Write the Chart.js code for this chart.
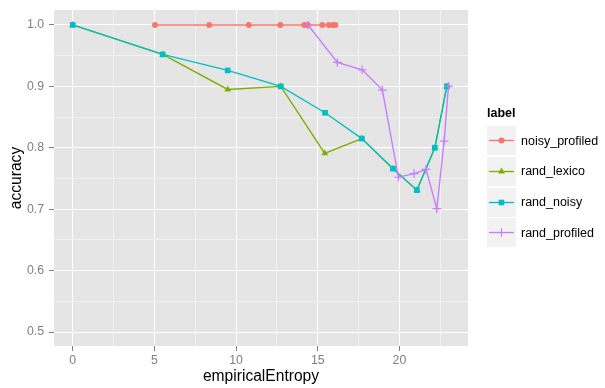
<!DOCTYPE html>
<html><head><meta charset="utf-8">
<script src="https://cdn.jsdelivr.net/npm/chart.js@4/dist/chart.umd.min.js"></script>
<style>
html,body{margin:0;padding:0;background:#fff;}
#wrap{position:relative;width:605px;height:388px;font-family:"Liberation Sans",Arial,sans-serif;overflow:hidden;}
canvas{position:absolute;left:0;top:0;}
#legend{position:absolute;left:0;top:0;width:605px;height:388px;pointer-events:none;}
.lt{position:absolute;left:487px;top:104px;font-weight:bold;font-size:12.5px;line-height:18px;color:#000;}
.key{position:absolute;left:487px;width:29px;height:29px;}
.txt{position:absolute;left:521px;font-size:12.5px;line-height:16px;color:#000;white-space:nowrap;}
</style></head><body>
<div id="wrap"><canvas id="c" width="605" height="388"></canvas><div id="legend"></div></div>
<script>
// ---- data ----
const seriesLabels = ['noisy_profiled', 'rand_lexico', 'rand_noisy', 'rand_profiled'];
const seriesColors = ['#F8766D', '#7CAE00', '#00BFC4', '#C77CFF'];
const seriesShapes = ['circle', 'triangle', 'rect', 'cross'];

const noisyProfiledX = [5.04, 8.36, 10.78, 12.71, 14.18, 14.39, 15.28, 15.68, 15.92, 16.08];
const noisyProfiledY = [1.0, 1.0, 1.0, 1.0, 1.0, 1.0, 1.0, 1.0, 1.0, 1.0];

const randLexicoX = [0, 5.51, 9.49, 12.74, 15.43, 17.70, 19.61, 21.07, 22.17, 22.90];
const randLexicoY = [1.0, 0.952, 0.895, 0.900, 0.791, 0.815, 0.766, 0.731, 0.800, 0.900];

const randNoisyX = [0, 5.51, 9.49, 12.74, 15.45, 17.70, 19.61, 21.07, 22.17, 22.90];
const randNoisyY = [1.0, 0.952, 0.926, 0.900, 0.857, 0.815, 0.766, 0.731, 0.800, 0.900];

const randProfiledX = [14.41, 16.20, 17.72, 18.96, 19.94, 20.90, 21.63, 22.29, 22.74, 23.00];
const randProfiledY = [1.0, 0.939, 0.927, 0.894, 0.752, 0.758, 0.765, 0.701, 0.811, 0.900];

const xMajorTicks = [0, 5, 10, 15, 20];
const xMinorTicks = [2.5, 7.5, 12.5, 17.5, 22.5];
const yMajorTicks = [0.5, 0.6, 0.7, 0.8, 0.9, 1.0];
const yMinorTicks = [0.55, 0.65, 0.75, 0.85, 0.95];

const xTitle = 'empiricalEntropy';
const yTitle = 'accuracy';
const legendTitle = 'label';

// ---- build ----
const seriesX = [noisyProfiledX, randLexicoX, randNoisyX, randProfiledX];
const seriesY = [noisyProfiledY, randLexicoY, randNoisyY, randProfiledY];
const pts = (xs, ys) => xs.map((x, i) => ({x: x, y: ys[i]}));
const pointRadius = {circle: 3, triangle: 3.9, rect: 4, cross: 4.3};

const datasets = [];
seriesLabels.forEach((lab, i) => {
  datasets.push({
    label: lab + ' line', data: pts(seriesX[i], seriesY[i]), showLine: true,
    borderColor: seriesColors[i], borderWidth: 1.35, pointRadius: 0, fill: false,
    tension: 0, order: 20 - i
  });
});
seriesLabels.forEach((lab, i) => {
  const shp = seriesShapes[i];
  datasets.push({
    label: lab, data: pts(seriesX[i], seriesY[i]), showLine: false,
    pointStyle: shp, pointRadius: pointRadius[shp],
    backgroundColor: seriesColors[i], borderColor: seriesColors[i],
    pointBorderWidth: shp === 'cross' ? 1.2 : 0, order: 10 - i
  });
});

const isMajor = (v, majors) => majors.some(m => Math.abs(m - v) < 1e-9);
const FONT = '"Liberation Sans", Arial, sans-serif';

const panelBg = {
  id: 'panelBg',
  beforeDraw(chart) {
    const a = chart.chartArea, ctx = chart.ctx;
    ctx.save(); ctx.fillStyle = '#E5E5E5';
    ctx.fillRect(a.left, a.top, a.right - a.left, a.bottom - a.top);
    ctx.restore();
  }
};

new Chart(document.getElementById('c'), {
  type: 'scatter',
  data: {datasets: datasets},
  plugins: [panelBg],
  options: {
    responsive: false, animation: false, devicePixelRatio: 1,
    layout: {padding: {left: 0, right: 137, top: 10, bottom: 0}},
    plugins: {legend: {display: false}, tooltip: {enabled: false}},
    scales: {
      x: {
        type: 'linear', min: -1.145, max: 24.2,
        afterBuildTicks: s => { s.ticks = xMajorTicks.concat(xMinorTicks).sort((a, b) => a - b).map(v => ({value: v})); },
        afterFit: s => { s.height = 42; s.paddingLeft = 0; s.paddingRight = 0; },
        border: {display: false},
        grid: {
          color: c => (c.tick && isMajor(c.tick.value, xMajorTicks)) ? '#FFFFFF' : '#F2F2F2',
          tickColor: c => (c.tick && isMajor(c.tick.value, xMajorTicks)) ? '#7F7F7F' : 'rgba(0,0,0,0)',
          lineWidth: 1, tickLength: 5, drawTicks: true
        },
        ticks: {
          autoSkip: false, maxRotation: 0, padding: 2, color: '#7F7F7F',
          font: {family: FONT, size: 12.3},
          callback: v => isMajor(v, xMajorTicks) ? String(Math.round(v)) : ''
        },
        title: {display: true, text: xTitle, color: '#000', font: {family: FONT, size: 15.6}, padding: {top: 0, bottom: 2}}
      },
      y: {
        type: 'linear', min: 0.4772, max: 1.0244,
        afterBuildTicks: s => { s.ticks = yMajorTicks.concat(yMinorTicks).sort((a, b) => a - b).map(v => ({value: v})); },
        afterFit: s => { s.width = 54; s.paddingTop = 0; s.paddingBottom = 0; },
        border: {display: false},
        grid: {
          color: c => (c.tick && isMajor(c.tick.value, yMajorTicks)) ? '#FFFFFF' : '#F2F2F2',
          tickColor: c => (c.tick && isMajor(c.tick.value, yMajorTicks)) ? '#7F7F7F' : 'rgba(0,0,0,0)',
          lineWidth: 1, tickLength: 5, drawTicks: true
        },
        ticks: {
          autoSkip: false, padding: 5, color: '#7F7F7F',
          font: {family: FONT, size: 12.3},
          callback: v => isMajor(v, yMajorTicks) ? v.toFixed(1) : ''
        },
        title: {display: true, text: yTitle, color: '#000', font: {family: FONT, size: 15.6}, padding: {top: 7, bottom: 0}}
      }
    }
  }
});

// ---- legend (HTML) ----
function markerSvg(shape, color) {
  const c = 14.5;
  if (shape === 'circle') return `<circle cx="${c}" cy="${c}" r="3" fill="${color}"/>`;
  if (shape === 'rect') return `<rect x="${c - 2.8}" y="${c - 2.8}" width="5.6" height="5.6" fill="${color}"/>`;
  if (shape === 'triangle') return `<polygon points="${c},${c - 3.9} ${c + 3.4},${c + 1.95} ${c - 3.4},${c + 1.95}" fill="${color}"/>`;
  return `<path d="M${c - 4.3} ${c}H${c + 4.3}M${c} ${c - 4.3}V${c + 4.3}" stroke="${color}" stroke-width="1.2"/>`;
}
const lg = document.getElementById('legend');
let html = `<div class="lt">${legendTitle}</div>`;
const rowCenters = [140.7, 171.4, 202.1, 232.8];
seriesLabels.forEach((lab, i) => {
  const cy = rowCenters[i];
  html += `<svg class="key" style="top:${cy - 14.5}px" width="29" height="29" viewBox="0 0 29 29">
    <rect x="0" y="0" width="29" height="29" fill="#F2F2F2"/>
    <line x1="2" y1="14.5" x2="27" y2="14.5" stroke="${seriesColors[i]}" stroke-width="1.35"/>
    ${markerSvg(seriesShapes[i], seriesColors[i])}</svg>`;
  html += `<div class="txt" style="top:${cy - 8}px">${lab}</div>`;
});
lg.innerHTML = html;
</script>
</body></html>
